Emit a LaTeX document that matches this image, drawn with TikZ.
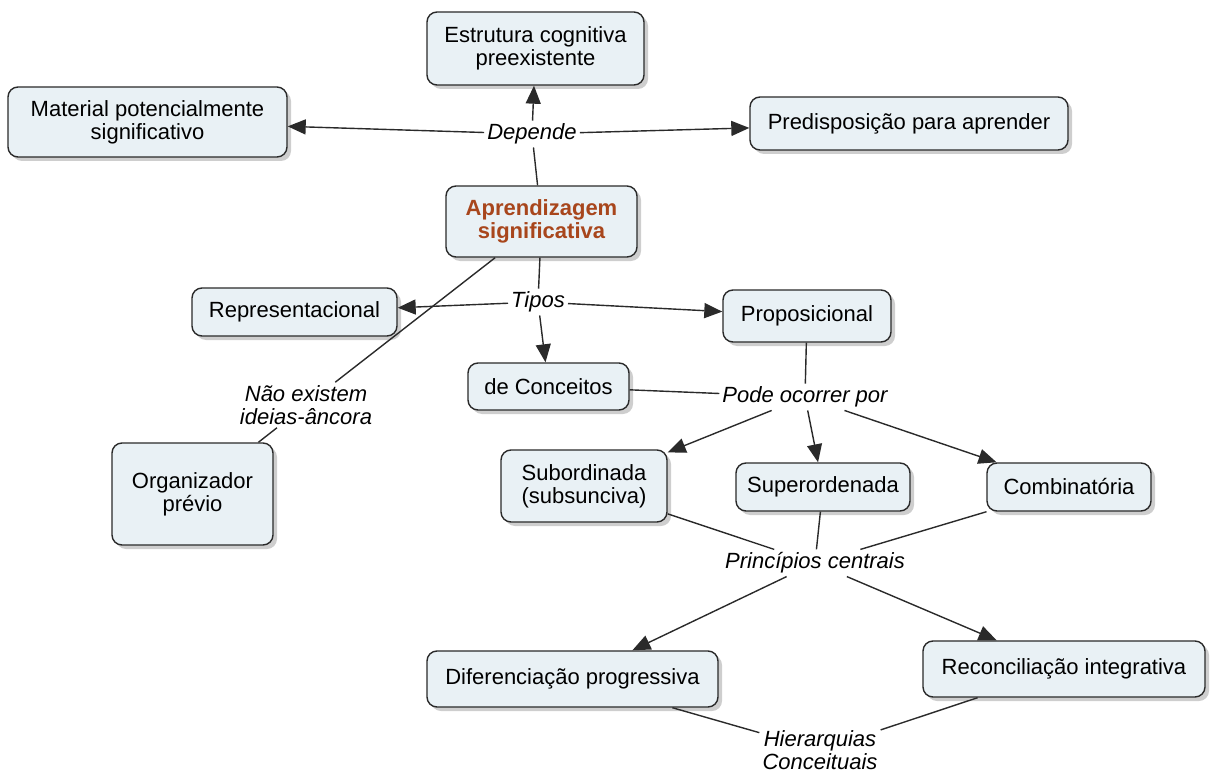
\documentclass[tikz,border=0pt]{standalone}
\usepackage{fontspec}
\setmainfont{Liberation Sans}
\usetikzlibrary{arrows.meta,shadows}
\definecolor{cFill}{HTML}{E9F1F5}
\definecolor{cInk}{HTML}{2A2A2A}
\definecolor{cRoot}{HTML}{A8461C}
\tikzset{
  concept/.style = {draw=cInk, line width=1.4pt, fill=cFill, rounded corners=10pt,
                    align=center, inner sep=4pt, font=\fontsize{22}{23}\selectfont,
                    drop shadow={shadow xshift=4pt, shadow yshift=-4pt,
                                 fill=black!35, opacity=.55}},
  root/.style    = {concept, text=cRoot, font=\fontsize{22}{23}\selectfont\bfseries},
  phrase/.style  = {font=\fontsize{22}{23}\selectfont\itshape, align=center,
                    inner sep=3pt},
  link/.style    = {line width=1.4pt, draw=cInk},
  flow/.style    = {link, -{Triangle[length=18pt, width=15pt]}},
}
\begin{document}
\begin{tikzpicture}[x=1pt, y=-1pt]
  \useasboundingbox (0,0) rectangle (1213,773);
  % concepts
  \node[root, minimum width=191pt, minimum height=71pt] (aprend) at (541.5,221.5)
    {Aprendizagem\\significativa};
  \node[concept, minimum width=217pt, minimum height=73pt] (estr) at (535.5,48.5)
    {Estrutura cognitiva\\preexistente};
  \node[concept, minimum width=279pt, minimum height=70pt] (mater) at (147.5,122)
    {Material potencialmente\\significativo};
  \node[concept, minimum width=318pt, minimum height=53pt] (predisp) at (909,123.5)
    {Predisposição para aprender};
  \node[concept, minimum width=205pt, minimum height=48pt] (repres) at (294.5,312)
    {Representacional};
  \node[concept, minimum width=168pt, minimum height=52pt] (propos) at (807,316)
    {Proposicional};
  \node[concept, minimum width=161pt, minimum height=47pt] (conc) at (548.5,386.5)
    {de Conceitos};
  \node[concept, minimum width=161pt, minimum height=102pt] (organ) at (192.5,494)
    {Organizador\\prévio};
  \node[concept, minimum width=166pt, minimum height=72pt] (subord) at (584,486)
    {Subordinada\\(subsunciva)};
  \node[concept, minimum width=174pt, minimum height=48pt] (superord) at (823,487)
    {Superordenada};
  \node[concept, minimum width=164pt, minimum height=48pt] (combin) at (1069,487)
    {Combinatória};
  \node[concept, minimum width=291pt, minimum height=56pt] (difer) at (572.5,679)
    {Diferenciação progressiva};
  \node[concept, minimum width=282pt, minimum height=56pt] (reconc) at (1064,669)
    {Reconciliação integrativa};
  % linking phrases
  \node[phrase] (dep)   at (532,134)   {Depende};
  \node[phrase] (tipos) at (538,302)   {Tipos};
  \node[phrase] (nao)   at (306,405)   {Não existem\\ideias-âncora};
  \node[phrase] (pode)  at (805,397)   {Pode ocorrer por};
  \node[phrase] (princ) at (815,563)   {Princípios centrais};
  \node[phrase] (hier)  at (820,750)   {Hierarquias\\Conceituais};
  % connectors
  \draw[link] (aprend) -- (dep);
  \foreach \n in {estr,mater,predisp} \draw[flow] (dep) -- (\n);
  \draw[link] (aprend) -- (tipos);
  \foreach \n in {repres,propos,conc} \draw[flow] (tipos) -- (\n);
  \draw[link] (aprend) -- (nao);
  \draw[link] (nao) -- (organ);
  \foreach \n in {propos,conc} \draw[link] (\n) -- (pode);
  \foreach \n in {subord,superord,combin} \draw[flow] (pode) -- (\n);
  \foreach \n in {subord,superord,combin} \draw[link] (\n) -- (princ);
  \foreach \n in {difer,reconc} \draw[flow] (princ) -- (\n);
  \foreach \n in {difer,reconc} \draw[link] (\n) -- (hier);
\end{tikzpicture}
\end{document}
